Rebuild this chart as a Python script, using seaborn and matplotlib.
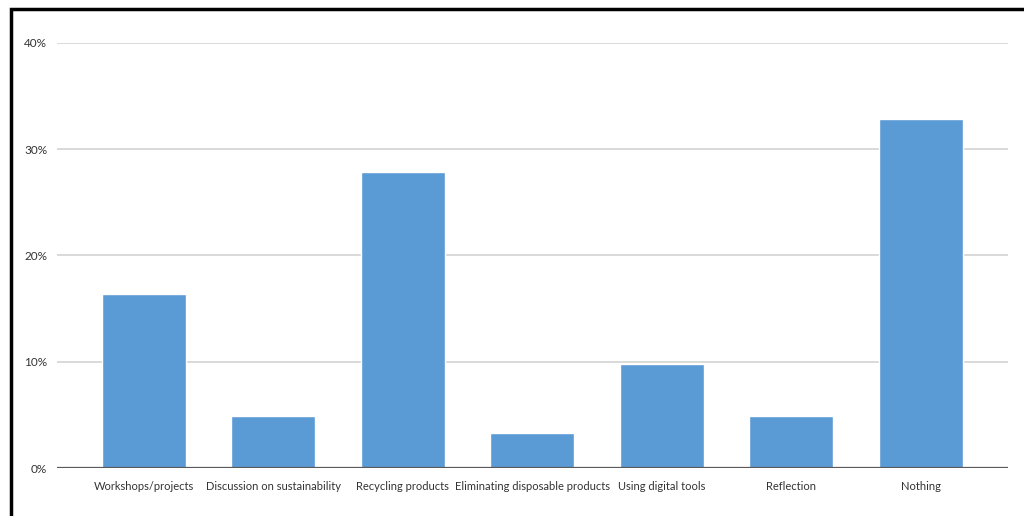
import matplotlib
matplotlib.use("Agg")
import matplotlib.pyplot as plt
import seaborn as sns
import pandas as pd
from matplotlib.patches import Rectangle
from matplotlib.ticker import PercentFormatter

categories = [
    "Workshops/projects",
    "Discussion on sustainability",
    "Recycling products",
    "Eliminating disposable products",
    "Using digital tools",
    "Reflection",
    "Nothing",
]
shares = [16.4, 4.9, 27.9, 3.3, 9.8, 4.9, 32.8]
y_ticks = [0, 10, 20, 30, 40]

df = pd.DataFrame({"activity": categories, "share": shares})

sns.set_theme(style="white")
plt.rcParams["font.family"] = ["Lato", "DejaVu Sans"]

fig = plt.figure(figsize=(10.24, 5.16), dpi=100)
ax = fig.add_axes([0.0557, 0.093, 0.9283, 0.8237])

sns.barplot(data=df, x="activity", y="share", color="#5b9bd5",
            saturation=1, width=0.65, ax=ax, zorder=3)

ax.set_ylim(0, 40)
ax.set_xlim(-0.67, len(categories) - 0.33)
ax.set_yticks(y_ticks)
ax.yaxis.set_major_formatter(PercentFormatter(decimals=0))
ax.grid(axis="y", color="#d9d9d9", linewidth=1.4, zorder=0)
ax.axhline(0, color="#595959", linewidth=1.6, zorder=4)

for side in ["left", "right", "top", "bottom"]:
    ax.spines[side].set_visible(False)

ax.set_xlabel("")
ax.set_ylabel("")
ax.tick_params(axis="both", length=0, colors="#333333")
ax.tick_params(axis="x", labelsize=8, pad=9)
ax.tick_params(axis="y", labelsize=8.5, pad=7)

# outer frame around the chart
fig.patches.append(Rectangle((11 / 1024, -0.1), 1.2, 1 - 9 / 516 + 0.1,
                             transform=fig.transFigure, fill=False,
                             edgecolor="black", linewidth=2.5, zorder=10))

fig.savefig("out.png", dpi=100)
